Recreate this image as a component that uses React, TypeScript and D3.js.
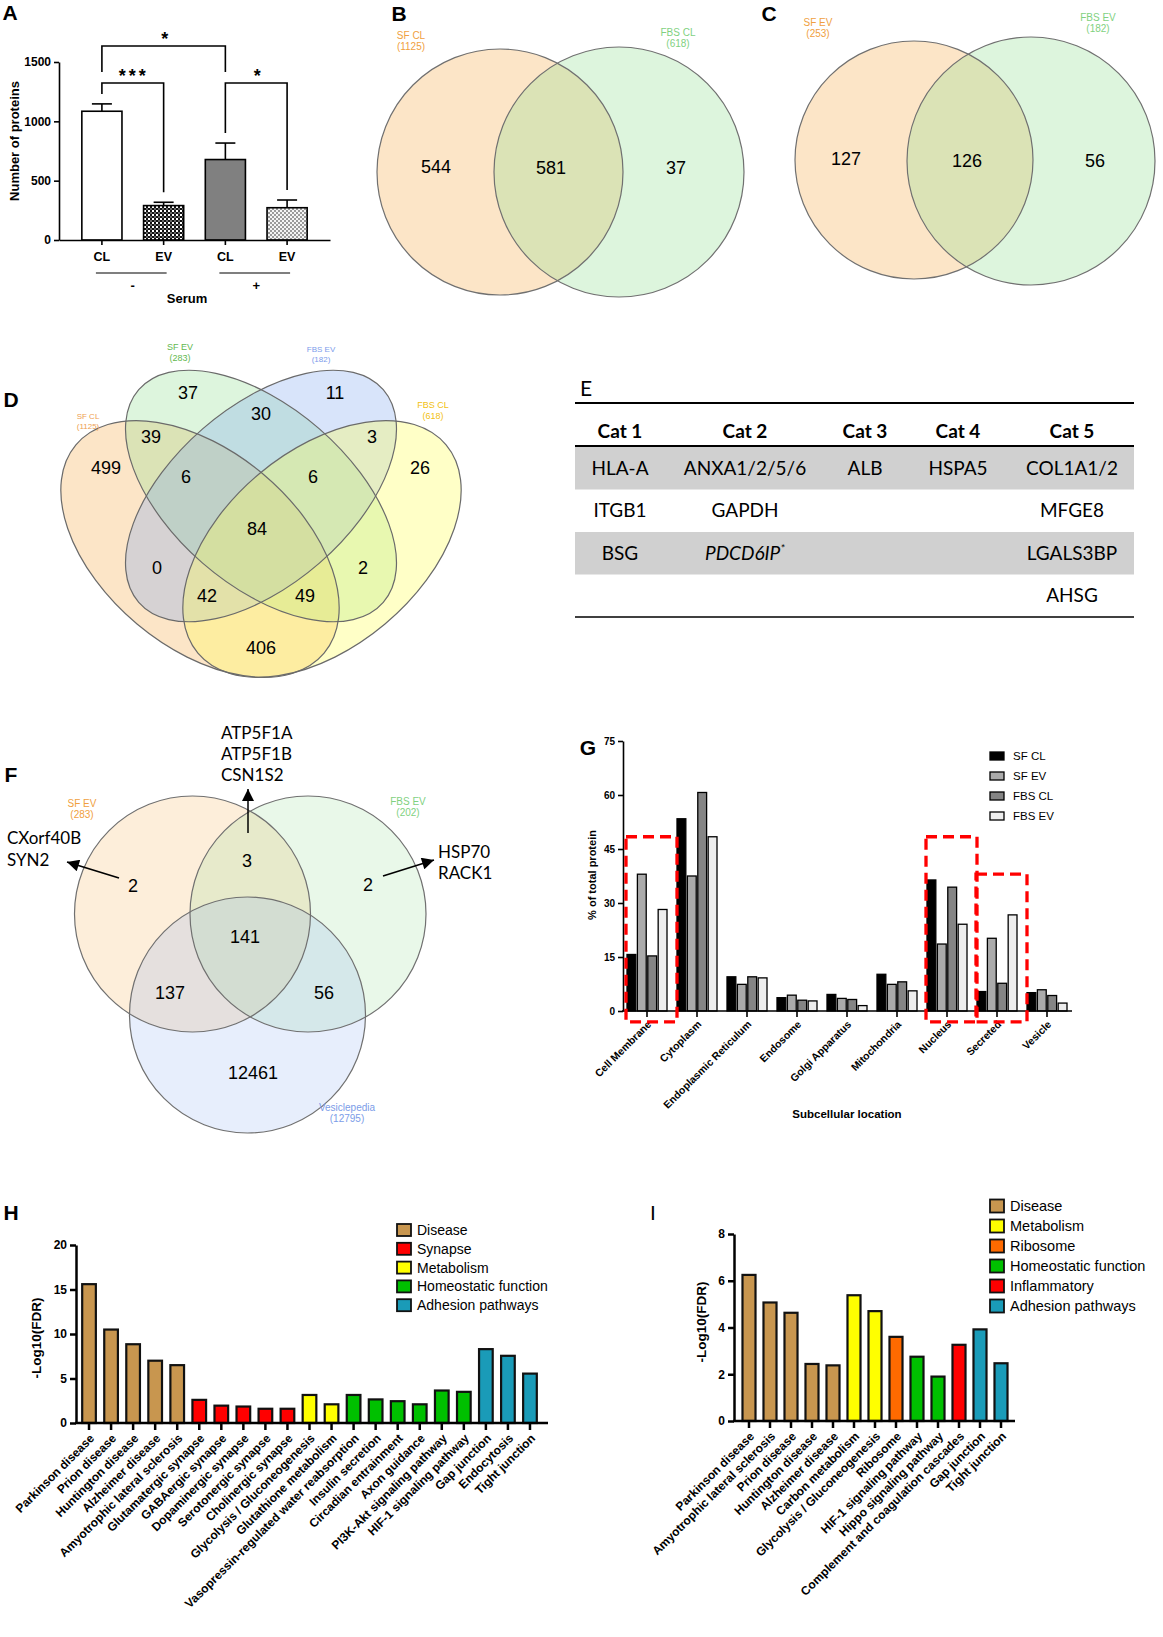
import React, { useEffect, useRef } from "react";
import * as d3 from "d3";

const ARIAL = "'Liberation Sans', Arial, Helvetica, sans-serif";
const CALIBRI = "Lato, 'Open Sans', sans-serif";

// A: number of identified proteins
const aLabels = ["CL", "EV", "CL", "EV"];
const aSerum = ["-", "+"];
const aMeans = [1085, 290, 678, 272];
const aErrTop = [1147, 318, 817, 337];
const aTicks = [0, 500, 1000, 1500];
const aSigFrom = [0, 2, 0];
const aSigTo = [1, 3, 2];
const aSigLabel = ["***", "*", "*"];
const aSigLevel = [0, 0, 1];

// B, C: two-set Venn diagrams
const bNames = ["SF CL", "FBS CL"];
const bTotals = [1125, 618];
const bCounts = [544, 581, 37];
const cNames = ["SF EV", "FBS EV"];
const cTotals = [253, 182];
const cCounts = [127, 126, 56];

// D: four-set Venn diagram
const dNames = ["SF CL", "SF EV", "FBS EV", "FBS CL"];
const dTotals = [1125, 283, 182, 618];
const dCounts = [37, 11, 30, 39, 3, 499, 26, 6, 6, 84, 0, 2, 42, 49, 406];

// E: markers by category
const eHeaders = ["Cat 1", "Cat 2", "Cat 3", "Cat 4", "Cat 5"];
const eCat1 = ["HLA-A", "ITGB1", "BSG"];
const eCat2 = ["ANXA1/2/5/6", "GAPDH", "PDCD6IP"];
const eCat3 = ["ALB"];
const eCat4 = ["HSPA5"];
const eCat5 = ["COL1A1/2", "MFGE8", "LGALS3BP", "AHSG"];
const eItalic = ["PDCD6IP"];

// F: three-set Venn diagram
const fNames = ["SF EV", "FBS EV", "Vesiclepedia"];
const fTotals = [283, 202, 12795];
const fCounts = [2, 3, 2, 141, 137, 56, 12461];
const fSfOnly = ["CXorf40B", "SYN2"];
const fShared = ["ATP5F1A", "ATP5F1B", "CSN1S2"];
const fFbsOnly = ["HSP70", "RACK1"];

// G: subcellular location
const gLocations = ["Cell Membrane", "Cytoplasm", "Endoplasmic Reticulum", "Endosome", "Golgi Apparatus", "Mitochondria", "Nucleus", "Secreted", "Vesicle"];
const gSeries = ["SF CL", "SF EV", "FBS CL", "FBS EV"];
const gSfCl = [15.7, 53.4, 9.5, 3.7, 4.6, 10.2, 36.4, 5.4, 5.1];
const gSfEv = [38.0, 37.5, 7.4, 4.4, 3.5, 7.4, 18.6, 20.2, 5.9];
const gFbsCl = [15.3, 60.7, 9.5, 3.0, 3.2, 8.1, 34.4, 7.7, 4.3];
const gFbsEv = [28.2, 48.4, 9.2, 2.8, 1.5, 5.6, 24.1, 26.7, 2.2];
const gTicks = [0, 15, 30, 45, 60, 75];
const gBoxCats = ["Cell Membrane", "Nucleus", "Secreted"];
const gBoxTops = [48.4, 48.4, 38];

// H: KEGG pathways, first set
const hTerms = ["Parkinson disease", "Prion disease", "Huntington disease", "Alzheimer disease", "Amyotrophic lateral sclerosis", "Glutamatergic synapse", "GABAergic synapse", "Dopaminergic synapse", "Serotonergic synapse", "Cholinergic synapse", "Glycolysis / Gluconeogenesis", "Glutathione metabolism", "Vasopressin-regulated water reabsorption", "Insulin secretion", "Circadian entrainment", "Axon guidance", "PI3K-Akt signaling pathway", "HIF-1 signaling pathway", "Gap junction", "Endocytosis", "Tight junction"];
const hValues = [15.6, 10.5, 8.85, 7.0, 6.5, 2.6, 1.95, 1.85, 1.6, 1.6, 3.15, 2.1, 3.15, 2.65, 2.45, 2.1, 3.65, 3.5, 8.3, 7.55, 5.55];
const hGroups = ["Disease", "Disease", "Disease", "Disease", "Disease", "Synapse", "Synapse", "Synapse", "Synapse", "Synapse", "Metabolism", "Metabolism", "Homeostatic function", "Homeostatic function", "Homeostatic function", "Homeostatic function", "Homeostatic function", "Homeostatic function", "Adhesion pathways", "Adhesion pathways", "Adhesion pathways"];
const hLegend = ["Disease", "Synapse", "Metabolism", "Homeostatic function", "Adhesion pathways"];

// I: KEGG pathways, second set
const iTerms = ["Parkinson disease", "Amyotrophic lateral sclerosis", "Prion disease", "Huntington disease", "Alzheimer disease", "Carbon metabolism", "Glycolysis / Gluconeogenesis", "Ribosome", "HIF-1 signaling pathway", "Hippo signaling pathway", "Complement and coagulation cascades", "Gap junction", "Tight junction"];
const iValues = [6.25, 5.07, 4.63, 2.44, 2.38, 5.38, 4.7, 3.6, 2.75, 1.9, 3.26, 3.92, 2.47];
const iGroups = ["Disease", "Disease", "Disease", "Disease", "Disease", "Metabolism", "Metabolism", "Ribosome", "Homeostatic function", "Homeostatic function", "Inflammatory", "Adhesion pathways", "Adhesion pathways"];
const iLegend = ["Disease", "Metabolism", "Ribosome", "Homeostatic function", "Inflammatory", "Adhesion pathways"];

const groupColor: Record<string, string> = {
  Disease: "#C8964F",
  Synapse: "#FF0000",
  Metabolism: "#FFFF00",
  Ribosome: "#FF6A00",
  "Homeostatic function": "#00C000",
  Inflammatory: "#FF0000",
  "Adhesion pathways": "#1A9BB8",
};

type G = d3.Selection<SVGGElement, unknown, null, undefined>;

function addText(g: G, x: number, y: number, s: string, size: number, opts: any = {}) {
  return g
    .append("text")
    .attr("x", x)
    .attr("y", y)
    .attr("dy", "0.35em")
    .attr("font-family", opts.family ?? ARIAL)
    .attr("font-size", size)
    .attr("font-weight", opts.weight ?? "normal")
    .attr("font-style", opts.style ?? "normal")
    .attr("fill", opts.fill ?? "#000")
    .attr("text-anchor", opts.anchor ?? "middle")
    .text(s);
}

function styleAxis(a: G, size: number, sw: number) {
  a.attr("font-family", ARIAL).attr("font-size", size).attr("font-weight", "bold");
  a.selectAll("path, line").attr("stroke", "#000").attr("stroke-width", sw);
  a.selectAll("text").attr("fill", "#000");
}

function drawA(svg: G) {
  const g = svg.append("g");
  const x = d3.scaleBand<number>().domain(d3.range(aMeans.length)).range([59, 330]).paddingInner(0.35).paddingOuter(0.37);
  const y = d3.scaleLinear().domain([0, 1500]).range([240, 62]);
  const cx = (i: number) => (x(i) as number) + x.bandwidth() / 2;
  const fills = ["#ffffff", "url(#chkDark)", "#808080", "url(#chkLight)"];

  g.selectAll("rect.bar")
    .data(aMeans)
    .join("rect")
    .attr("x", (_, i) => x(i) as number)
    .attr("y", (d) => y(d))
    .attr("width", x.bandwidth())
    .attr("height", (d) => y(0) - y(d))
    .attr("fill", (_, i) => fills[i])
    .attr("stroke", "#000")
    .attr("stroke-width", 1.6);

  aErrTop.forEach((e, i) => {
    g.append("line").attr("x1", cx(i)).attr("x2", cx(i)).attr("y1", y(aMeans[i])).attr("y2", y(e)).attr("stroke", "#000").attr("stroke-width", 1.6);
    g.append("line").attr("x1", cx(i) - 10).attr("x2", cx(i) + 10).attr("y1", y(e)).attr("y2", y(e)).attr("stroke", "#000").attr("stroke-width", 1.6);
  });

  const ya = g
    .append("g")
    .attr("transform", "translate(59,0)")
    .call(d3.axisLeft(y).tickValues(aTicks).tickSize(5).tickSizeOuter(0).tickPadding(3).tickFormat(d3.format("d")));
  styleAxis(ya, 12, 1.6);
  const xa = g
    .append("g")
    .attr("transform", "translate(0,240)")
    .call(d3.axisBottom(x).tickSize(5).tickSizeOuter(0).tickPadding(7).tickFormat((i) => aLabels[i as number]));
  styleAxis(xa, 12.5, 1.6);

  // significance brackets
  const levelY = [83, 46];
  aSigLabel.forEach((lab, k) => {
    const by = levelY[aSigLevel[k]];
    const leg = (i: number) => (aSigLevel[k] === 0 ? y(aErrTop[i]) - 10 : levelY[0] - 11);
    const a = aSigFrom[k];
    const b = aSigTo[k];
    g.append("path")
      .attr("d", `M${cx(a)},${leg(a)}V${by}H${cx(b)}V${leg(b)}`)
      .attr("fill", "none")
      .attr("stroke", "#000")
      .attr("stroke-width", 1.6);
    g.append("text")
      .attr("x", (cx(a) + cx(b)) / 2 + 1)
      .attr("y", by - 1)
      .attr("text-anchor", "middle")
      .attr("font-family", ARIAL)
      .attr("font-weight", "bold")
      .attr("font-size", 18)
      .attr("letter-spacing", lab.length > 1 ? 3 : 0)
      .text(lab);
  });

  aSerum.forEach((s, k) => {
    const l = cx(2 * k) - 6;
    const r = cx(2 * k + 1) + 3;
    g.append("line").attr("x1", l).attr("x2", r).attr("y1", 273).attr("y2", 273).attr("stroke", "#000").attr("stroke-width", 1.2);
    addText(g, (cx(2 * k) + cx(2 * k + 1)) / 2, 285, s, 13, { weight: "bold" });
  });
  addText(g, 187, 298, "Serum", 13, { weight: "bold" });
  g.append("text")
    .attr("transform", "translate(14,141) rotate(-90)")
    .attr("text-anchor", "middle")
    .attr("dy", "0.35em")
    .attr("font-family", ARIAL)
    .attr("font-weight", "bold")
    .attr("font-size", 13)
    .text("Number of proteins");
}

function drawVenn2(
  svg: G,
  names: string[],
  totals: number[],
  counts: number[],
  cxs: number[],
  cys: number[],
  rs: number[],
  countXY: number[][],
  labelXY: number[][]
) {
  const g = svg.append("g");
  const base = ["#F6A845", "#8FDD8F"];
  const textCol = ["#F0A040", "#7FD17F"];
  cxs.forEach((cx, i) => {
    g.append("circle").attr("cx", cx).attr("cy", cys[i]).attr("r", rs[i]).attr("fill", base[i]).attr("fill-opacity", 0.3);
  });
  cxs.forEach((cx, i) => {
    g.append("circle").attr("cx", cx).attr("cy", cys[i]).attr("r", rs[i]).attr("fill", "none").attr("stroke", "#707070").attr("stroke-width", 1.2);
  });
  counts.forEach((c, i) => addText(g, countXY[i][0], countXY[i][1], String(c), 18));
  names.forEach((n, i) => {
    addText(g, labelXY[i][0], labelXY[i][1], n, 10, { fill: textCol[i] });
    addText(g, labelXY[i][0], labelXY[i][1] + 11, `(${totals[i]})`, 10, { fill: textCol[i] });
  });
}

function drawD(svg: G) {
  const g = svg.append("g");
  const ell = [
    { cx: 200, cy: 549, rx: 162, ry: 98, rot: 40, fill: "#F6A845", op: 0.3 },
    { cx: 261, cy: 496, rx: 162, ry: 89, rot: 41, fill: "#8FDD8F", op: 0.3 },
    { cx: 261, cy: 496, rx: 162, ry: 89, rot: -41, fill: "#7FA6F0", op: 0.3 },
    { cx: 322, cy: 549, rx: 162, ry: 98, rot: -40, fill: "#FFFF55", op: 0.33 },
  ];
  ell.forEach((e) =>
    g.append("ellipse").attr("transform", `translate(${e.cx},${e.cy}) rotate(${e.rot})`).attr("rx", e.rx).attr("ry", e.ry).attr("fill", e.fill).attr("fill-opacity", e.op)
  );
  ell.forEach((e) =>
    g
      .append("ellipse")
      .attr("transform", `translate(${e.cx},${e.cy}) rotate(${e.rot})`)
      .attr("rx", e.rx)
      .attr("ry", e.ry)
      .attr("fill", "none")
      .attr("stroke", "#6a6a6a")
      .attr("stroke-width", 1.2)
  );
  const pos = [
    [188, 393], [335, 393], [261, 414], [151, 437], [372, 437], [106, 468], [420, 468],
    [186, 477], [313, 477], [257, 529], [157, 568], [363, 568], [207, 596], [305, 596], [261, 648],
  ];
  dCounts.forEach((c, i) => addText(g, pos[i][0], pos[i][1], String(c), 18));
  const lab = [
    { x: 88, y: 416, col: "#EEA050", s: 8 },
    { x: 180, y: 347, col: "#62B84E", s: 9 },
    { x: 321, y: 349, col: "#7C9CEB", s: 8 },
    { x: 433, y: 405, col: "#F2BF10", s: 9 },
  ];
  dNames.forEach((n, i) => {
    addText(g, lab[i].x, lab[i].y, n, lab[i].s, { fill: lab[i].col });
    addText(g, lab[i].x, lab[i].y + lab[i].s + 2, `(${dTotals[i]})`, lab[i].s, { fill: lab[i].col });
  });
}

function drawE(svg: G) {
  const g = svg.append("g");
  const left = 575;
  const right = 1134;
  const colX = [620, 745, 865, 958, 1072];
  const rowH = 42.5;
  const rowTop = (i: number) => 447 + i * rowH;
  [0, 2].forEach((i) => g.append("rect").attr("x", left).attr("y", rowTop(i)).attr("width", right - left).attr("height", rowH).attr("fill", "#D0D0D0"));
  const hline = (y: number, w: number) => g.append("line").attr("x1", left).attr("x2", right).attr("y1", y).attr("y2", y).attr("stroke", "#000").attr("stroke-width", w);
  hline(403, 2.2);
  hline(446, 2.2);
  hline(rowTop(4), 1.5);
  eHeaders.forEach((h, i) => addText(g, colX[i], 431, h, 19, { family: CALIBRI, weight: "bold" }));
  [eCat1, eCat2, eCat3, eCat4, eCat5].forEach((col, ci) =>
    col.forEach((cell, ri) => {
      const italic = eItalic.includes(cell);
      const t = addText(g, colX[ci], rowTop(ri) + rowH / 2, cell, 19, { family: CALIBRI, style: italic ? "italic" : "normal" });
      if (italic) t.append("tspan").attr("font-size", 12).attr("dy", "-0.6em").text("*");
    })
  );
}

function drawF(svg: G) {
  const g = svg.append("g");
  const circ = [
    { cx: 192.5, cy: 914, fill: "#F6A845" },
    { cx: 308, cy: 914, fill: "#8FDD8F" },
    { cx: 247.5, cy: 1015, fill: "#86A9F2" },
  ];
  const r = 118;
  circ.forEach((c) => g.append("circle").attr("cx", c.cx).attr("cy", c.cy).attr("r", r).attr("fill", c.fill).attr("fill-opacity", 0.2));
  circ.forEach((c) => g.append("circle").attr("cx", c.cx).attr("cy", c.cy).attr("r", r).attr("fill", "none").attr("stroke", "#707070").attr("stroke-width", 1.2));
  const pos = [[133, 886], [247, 861], [368, 885], [245, 937], [170, 993], [324, 993], [253, 1073]];
  fCounts.forEach((c, i) => addText(g, pos[i][0], pos[i][1], String(c), 18));
  const lab = [
    { x: 82, y: 803, col: "#F0A040" },
    { x: 408, y: 801, col: "#7FD17F" },
    { x: 347, y: 1107, col: "#7B9CE8" },
  ];
  fNames.forEach((n, i) => {
    addText(g, lab[i].x, lab[i].y, n, 10, { fill: lab[i].col });
    addText(g, lab[i].x, lab[i].y + 11, `(${fTotals[i]})`, 10, { fill: lab[i].col });
  });
  fShared.forEach((s, i) => addText(g, 221, 733 + i * 21, s, 17, { family: CALIBRI, anchor: "start" }));
  fSfOnly.forEach((s, i) => addText(g, 7, 838 + i * 22, s, 17, { family: CALIBRI, anchor: "start" }));
  fFbsOnly.forEach((s, i) => addText(g, 438, 852 + i * 21, s, 17, { family: CALIBRI, anchor: "start" }));
  const arrow = (x1: number, y1: number, x2: number, y2: number) =>
    g.append("line").attr("x1", x1).attr("y1", y1).attr("x2", x2).attr("y2", y2).attr("stroke", "#000").attr("stroke-width", 1.5).attr("marker-end", "url(#arrowHead)");
  arrow(248, 833, 248, 789);
  arrow(119, 878, 67, 862);
  arrow(383, 876, 434, 860);
}

function drawG(svg: G) {
  const g = svg.append("g");
  const x0 = d3.scaleBand().domain(gLocations).range([622, 1072]).paddingInner(0.2).paddingOuter(0.1);
  const x1 = d3.scaleBand().domain(gSeries).range([0, x0.bandwidth()]).paddingInner(0.15);
  const y = d3.scaleLinear().domain([0, 75]).range([1011, 741]);
  const values = [gSfCl, gSfEv, gFbsCl, gFbsEv];
  const fills = ["#000000", "#ABABAB", "#858585", "#EDEDED"];
  const flat = gLocations.flatMap((loc, li) => gSeries.map((s, si) => ({ loc, s, si, v: values[si][li] })));

  g.selectAll("rect.gbar")
    .data(flat)
    .join("rect")
    .attr("x", (d) => (x0(d.loc) as number) + (x1(d.s) as number))
    .attr("y", (d) => y(d.v))
    .attr("width", x1.bandwidth())
    .attr("height", (d) => y(0) - y(d.v))
    .attr("fill", (d) => fills[d.si])
    .attr("stroke", "#000")
    .attr("stroke-width", 1.3);

  const ya = g.append("g").attr("transform", "translate(623,0)").call(d3.axisLeft(y).tickValues(gTicks).tickSize(5).tickSizeOuter(0).tickPadding(3));
  styleAxis(ya, 10, 1.6);
  const xa = g.append("g").attr("transform", "translate(0,1011)").call(d3.axisBottom(x0).tickSize(6).tickSizeOuter(0));
  xa.select(".domain").remove();
  styleAxis(xa, 10.5, 1.6);
  xa.selectAll("text").attr("x", 5).attr("y", 14).attr("dy", 0).attr("text-anchor", "end").attr("transform", "rotate(-45,5,14)");
  g.append("line").attr("x1", 622).attr("x2", 1072).attr("y1", 1011).attr("y2", 1011).attr("stroke", "#000").attr("stroke-width", 1.6);

  gBoxCats.forEach((c, i) => {
    const bx = (x0(c) as number) - 1;
    g.append("rect")
      .attr("x", bx)
      .attr("y", y(gBoxTops[i]))
      .attr("width", x0.bandwidth() + 11)
      .attr("height", y(-3) - y(gBoxTops[i]))
      .attr("fill", "none")
      .attr("stroke", "#FF0000")
      .attr("stroke-width", 3.3)
      .attr("stroke-dasharray", "11,6");
  });

  gSeries.forEach((s, i) => {
    const cy = 756 + i * 20;
    g.append("rect").attr("x", 990).attr("y", cy - 4).attr("width", 14).attr("height", 8).attr("fill", fills[i]).attr("stroke", "#000").attr("stroke-width", 1.3);
    addText(g, 1013, cy, s, 11.5, { anchor: "start" });
  });

  g.append("text")
    .attr("transform", "translate(592,875) rotate(-90)")
    .attr("text-anchor", "middle")
    .attr("dy", "0.35em")
    .attr("font-family", ARIAL)
    .attr("font-weight", "bold")
    .attr("font-size", 11)
    .text("% of total protein");
  addText(g, 847, 1114, "Subcellular location", 11.5, { weight: "bold" });
}

function drawEnrich(
  svg: G,
  terms: string[],
  values: number[],
  groups: string[],
  legend: string[],
  yMax: number,
  yTicks: number[],
  yRange: number[],
  xRange: number[],
  axisX: number,
  axisEnd: number,
  legX: number,
  legY: number,
  legStep: number,
  legH: number,
  legFont: number,
  yLabelX: number,
  yLabelY: number
) {
  const g = svg.append("g");
  const x = d3.scaleBand().domain(terms).range([xRange[0], xRange[1]]).paddingInner(0.38).paddingOuter(0.19);
  const y = d3.scaleLinear().domain([0, yMax]).range([yRange[0], yRange[1]]);
  g.selectAll("rect.ebar")
    .data(values)
    .join("rect")
    .attr("x", (_, i) => x(terms[i]) as number)
    .attr("y", (d) => y(d))
    .attr("width", x.bandwidth())
    .attr("height", (d) => y(0) - y(d))
    .attr("fill", (_, i) => groupColor[groups[i]])
    .attr("stroke", "#111")
    .attr("stroke-width", 2.2);

  const ya = g.append("g").attr("transform", `translate(${axisX},0)`).call(d3.axisLeft(y).tickValues(yTicks).tickSize(6).tickSizeOuter(0).tickPadding(3));
  styleAxis(ya, 12, 2.5);
  const xa = g.append("g").attr("transform", `translate(0,${yRange[0]})`).call(d3.axisBottom(x).tickSize(7).tickSizeOuter(0));
  xa.select(".domain").remove();
  styleAxis(xa, 12, 2.5);
  xa.selectAll("text").attr("x", 6).attr("y", 16).attr("dy", 0).attr("text-anchor", "end").attr("transform", "rotate(-45,6,16)");
  g.append("line").attr("x1", axisX - 1).attr("x2", axisEnd).attr("y1", yRange[0]).attr("y2", yRange[0]).attr("stroke", "#000").attr("stroke-width", 2.5);

  legend.forEach((l, i) => {
    const cy = legY + i * legStep;
    g.append("rect").attr("x", legX).attr("y", cy - legH / 2).attr("width", 14).attr("height", legH).attr("fill", groupColor[l]).attr("stroke", "#111").attr("stroke-width", 1.8);
    addText(g, legX + 20, cy, l, legFont, { anchor: "start" });
  });

  g.append("text")
    .attr("transform", `translate(${yLabelX},${yLabelY}) rotate(-90)`)
    .attr("text-anchor", "middle")
    .attr("dy", "0.35em")
    .attr("font-family", ARIAL)
    .attr("font-weight", "bold")
    .attr("font-size", 13.5)
    .text("-Log10(FDR)");
}

export default function App() {
  const ref = useRef<SVGSVGElement>(null);

  useEffect(() => {
    if (!ref.current) return;
    const root = d3.select(ref.current);
    root.selectAll("*").remove();

    const defs = root.append("defs");
    const dark = defs.append("pattern").attr("id", "chkDark").attr("width", 4).attr("height", 4).attr("patternUnits", "userSpaceOnUse");
    dark.append("rect").attr("width", 4).attr("height", 4).attr("fill", "#ffffff");
    dark.append("rect").attr("width", 2).attr("height", 2).attr("fill", "#111");
    dark.append("rect").attr("x", 2).attr("y", 2).attr("width", 2).attr("height", 2).attr("fill", "#111");
    dark.append("rect").attr("x", 2).attr("y", 0).attr("width", 2).attr("height", 2).attr("fill", "#666");
    const light = defs.append("pattern").attr("id", "chkLight").attr("width", 4).attr("height", 4).attr("patternUnits", "userSpaceOnUse");
    light.append("rect").attr("width", 4).attr("height", 4).attr("fill", "#f4f4f4");
    light.append("rect").attr("width", 2).attr("height", 2).attr("fill", "#9a9a9a");
    light.append("rect").attr("x", 2).attr("y", 2).attr("width", 2).attr("height", 2).attr("fill", "#9a9a9a");
    defs
      .append("marker")
      .attr("id", "arrowHead")
      .attr("viewBox", "0 0 10 10")
      .attr("refX", 10)
      .attr("refY", 5)
      .attr("markerUnits", "userSpaceOnUse")
      .attr("markerWidth", 13)
      .attr("markerHeight", 12)
      .attr("orient", "auto")
      .append("path")
      .attr("d", "M0,0L10,5L0,10Z")
      .attr("fill", "#000");

    const svg = root.append("g") as unknown as G;
    svg.append("rect").attr("width", 1163).attr("height", 1637).attr("fill", "#fff");

    // panel letters
    const letter = (s: string, x: number, y: number, weight: string, family = ARIAL) =>
      svg.append("text").attr("x", x).attr("y", y).attr("dy", "0.35em").attr("font-family", family).attr("font-weight", weight).attr("font-size", 21).attr("text-anchor", "middle").text(s);
    letter("A", 10, 13, "bold");
    letter("B", 399, 14, "bold");
    letter("C", 769, 14, "bold");
    letter("D", 11, 400, "bold");
    letter("E", 586, 389, "normal", CALIBRI);
    letter("F", 11, 775, "bold");
    letter("G", 588, 748, "bold");
    letter("H", 11, 1213, "bold");
    letter("I", 653, 1213, "normal");

    drawA(svg);
    drawVenn2(svg, bNames, bTotals, bCounts, [500, 619], [172, 172], [123, 125], [[436, 167], [551, 168], [676, 168]], [[411, 35], [678, 32]]);
    drawVenn2(svg, cNames, cTotals, cCounts, [914, 1031], [160, 161], [119, 124], [[846, 159], [967, 161], [1095, 161]], [[818, 22], [1098, 17]]);
    drawD(svg);
    drawE(svg);
    drawF(svg);
    drawG(svg);
    drawEnrich(svg, hTerms, hValues, hGroups, hLegend, 20, [0, 5, 10, 15, 20], [1423, 1245], [78, 541], 76, 548, 397, 1230, 18.8, 12, 14, 36, 1338);
    drawEnrich(svg, iTerms, iValues, iGroups, iLegend, 8, [0, 2, 4, 6, 8], [1421, 1234], [738.5, 1011.5], 734, 1015, 990, 1206, 20, 13, 14.5, 701, 1322);
  }, []);

  return <svg ref={ref} width={1163} height={1637} style={{ position: "absolute", left: 0, top: 0, background: "#fff" }} />;
}
